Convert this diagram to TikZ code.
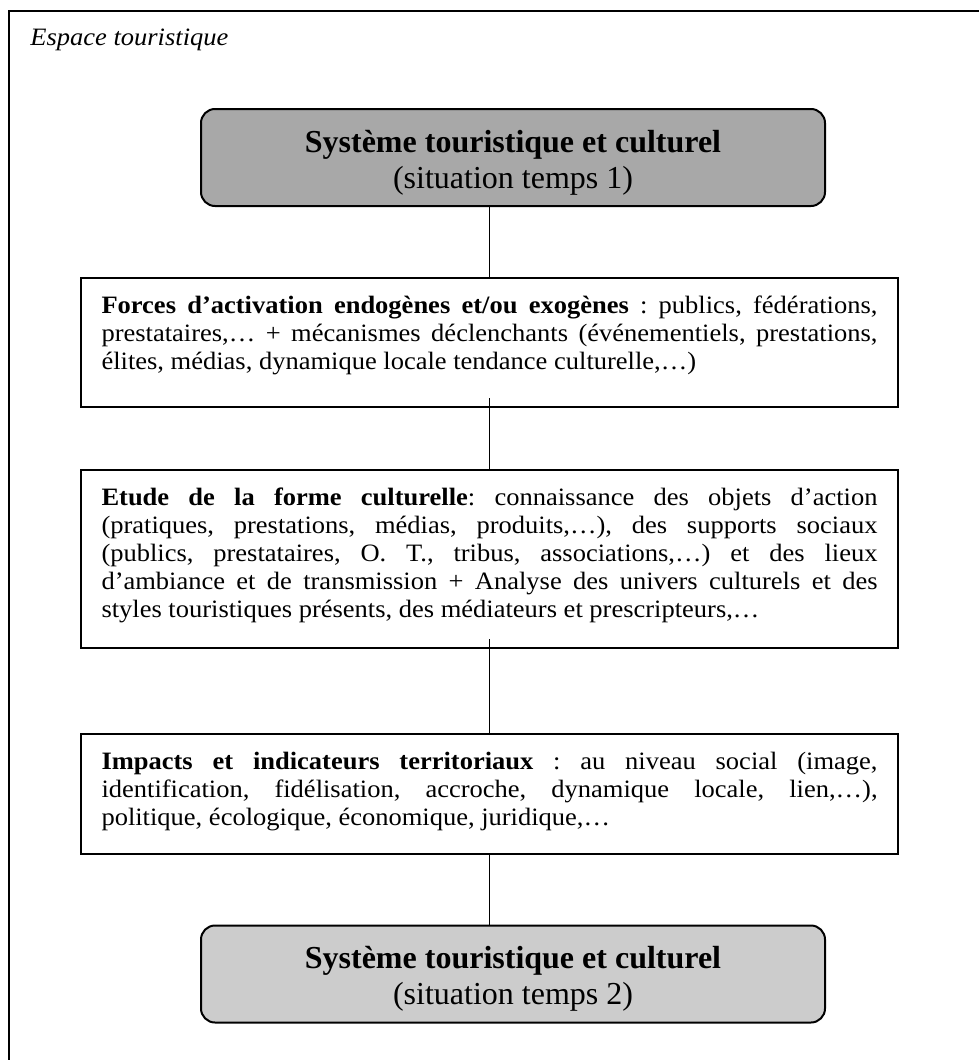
\documentclass[tikz,border=0pt]{standalone}
\usepackage{fontspec}
\setmainfont{Liberation Serif}
\newfontfamily\corps{Liberation Serif}[FakeStretch=1.06]
\usetikzlibrary{positioning}
\frenchspacing

\definecolor{grisfonce}{gray}{0.66}
\definecolor{grisclair}{gray}{0.8}

\tikzset{
systeme/.style={draw, line width=1pt, rounded corners=7pt, inner sep=0pt, font=\fontsize{16}{18}\selectfont},
cadre/.style={draw, line width=1pt, anchor=north, inner xsep=10.25pt, inner ysep=0pt, font=\corps\fontsize{12.5}{14}\selectfont},
lien/.style={line width=0.75pt}
}
% boite de texte: hauteur, texte (premiere ligne de base a 17.5pt du haut)
\newcommand{\bloc}[2]{\parbox[c][#1][t]{388pt}{\hyphenpenalty=10000\exhyphenpenalty=10000\frenchspacing\rule{0pt}{17.5pt}#2}}
\newcommand{\titre}[1]{\parbox[c][48.5pt][t]{312pt}{\centering\rule{0pt}{21.5pt}\textbf{Système touristique et culturel}\\(situation temps #1)}}

\begin{document}
\begin{tikzpicture}[x=0.5pt,y=-0.5pt]
\useasboundingbox (0,0) rectangle (979,1060);
\draw[line width=1pt] (9,1060) -- (9,11) -- (979,11);
\node[anchor=base west, inner sep=0pt, font=\corps\fontsize{12.5}{14}\selectfont\itshape] (espace) at (30,45) {Espace touristique};

\node[systeme, fill=grisfonce] (temps1) at (513,157.5) {\titre{1}};

\node[cadre] (forces) at (489.5,277) {\bloc{64.5pt}{\textbf{Forces d’activation endogènes et/ou exogènes} : publics, fédérations,\linebreak prestataires,… + mécanismes déclenchants (événementiels, prestations,\linebreak élites, médias, dynamique locale tendance culturelle,…)}};

\node[cadre] (etude) at (489.5,469) {\bloc{89pt}{\textbf{Etude de la forme culturelle}: connaissance des objets d’action\linebreak (pratiques, prestations, médias, produits,…), des supports sociaux\linebreak (publics, prestataires, O. T., tribus, associations,…) et des lieux\linebreak d’ambiance et de transmission + Analyse des univers culturels et des\linebreak styles touristiques présents, des médiateurs et prescripteurs,…}};

\node[cadre] (impacts) at (489.5,733) {\bloc{60pt}{\textbf{Impacts et indicateurs territoriaux} : au niveau social (image,\linebreak identification, fidélisation, accroche, dynamique locale, lien,…),\linebreak politique, écologique, économique, juridique,…}};

\node[systeme, fill=grisclair] (temps2) at (513,974) {\titre{2}};

\draw[lien] (forces.north |- temps1.south) -- (forces.north);
\draw[lien] ([yshift=5pt]forces.south) -- (etude.north);
\draw[lien] ([yshift=5pt]etude.south) -- (impacts.north);
\draw[lien] (impacts.south) -- (impacts.south |- temps2.north);
\end{tikzpicture}
\end{document}
